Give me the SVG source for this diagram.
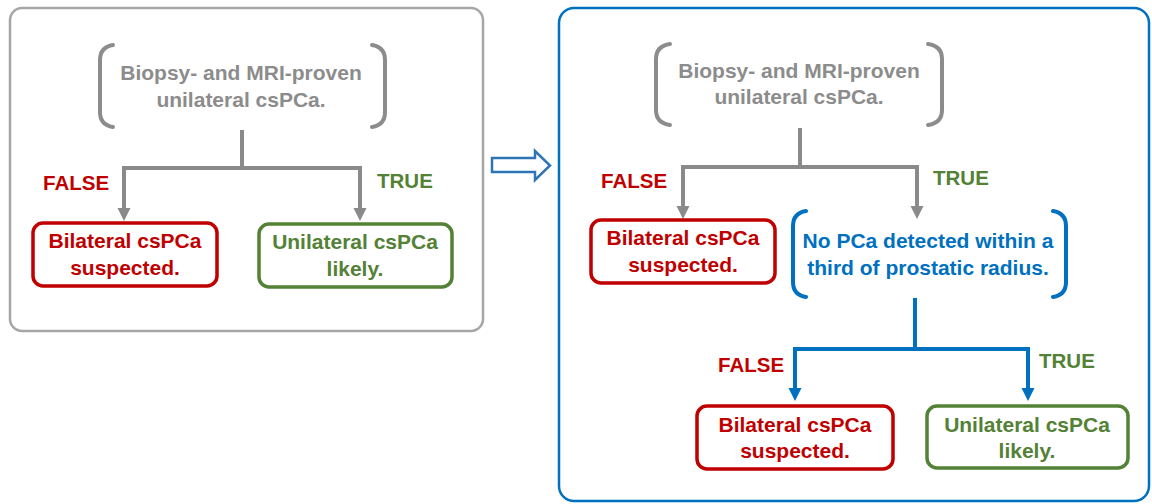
<svg xmlns="http://www.w3.org/2000/svg" width="1152" height="504" viewBox="0 0 1152 504">
<defs>
<style>
text{font-family:"Liberation Sans",Arial,sans-serif;font-weight:bold;font-size:21px;text-anchor:middle}
.gray{fill:#8c8c8c}
.red{fill:#c00000}
.green{fill:#538135}
.blue{fill:#0070c0}
.lbl{font-size:20.5px;text-anchor:start}
.gl{fill:none;stroke:#8a8a8a;stroke-width:4}
.bl{fill:none;stroke:#0070c0;stroke-width:4}
.gb{fill:none;stroke:#8c8c8c;stroke-width:4;stroke-linecap:round}
.bb{fill:none;stroke:#0070c0;stroke-width:4;stroke-linecap:round}
.rbox{fill:#fff;stroke:#c00000;stroke-width:3.5}
.gbox{fill:#fff;stroke:#538135;stroke-width:3.5}
</style>
<marker id="ag" markerUnits="userSpaceOnUse" markerWidth="14" markerHeight="14" viewBox="0 -7 14 14" refX="1" refY="0" orient="auto"><path d="M0,-6.5 L13,0 L0,6.5 z" fill="#8a8a8a"/></marker>
<marker id="ab" markerUnits="userSpaceOnUse" markerWidth="14" markerHeight="14" viewBox="0 -7 14 14" refX="1" refY="0" orient="auto"><path d="M0,-6.5 L13,0 L0,6.5 z" fill="#0070c0"/></marker>
</defs>
<rect width="1152" height="504" fill="#fff"/>

<g id="panel-left">
<rect x="10" y="8" width="473" height="323" rx="12" fill="none" stroke="#a6a6a6" stroke-width="2.5"/>
</g>
<g id="panel-right">
<rect x="559" y="8" width="590" height="493" rx="15" fill="none" stroke="#0070c0" stroke-width="2.5"/>
</g>
<g id="transition-arrow">
<polygon points="492,158 535,158 535,151 550,165.5 535,180 535,172 492,172" fill="#fff" stroke="#2e75b6" stroke-width="2.5" stroke-linejoin="miter"/>
</g>

<g id="connectors">
<path class="gl" d="M242,130 V168"/>
<path class="gl" d="M124,168 H360"/>
<path class="gl" d="M124,166 V209" marker-end="url(#ag)"/>
<path class="gl" d="M360,166 V209" marker-end="url(#ag)"/>
<path class="gl" d="M800,128 V167"/>
<path class="gl" d="M683,167 H917"/>
<path class="gl" d="M683,165 V207" marker-end="url(#ag)"/>
<path class="gl" d="M917,165 V207" marker-end="url(#ag)"/>
<path class="bl" d="M915,298 V349"/>
<path class="bl" d="M795,349 H1028"/>
<path class="bl" d="M795,347 V389" marker-end="url(#ab)"/>
<path class="bl" d="M1028,347 V389" marker-end="url(#ab)"/>
</g>

<g id="labels">
<text class="red lbl" x="43" y="190">FALSE</text>
<text class="green lbl" x="377" y="188">TRUE</text>
<text class="red lbl" x="601" y="188">FALSE</text>
<text class="green lbl" x="933" y="185">TRUE</text>
<text class="red lbl" x="718" y="372">FALSE</text>
<text class="green lbl" x="1039" y="368">TRUE</text>
</g>

<g id="L-start">
<path class="gb" d="M113,45 Q100,47 100,60 V112 Q100,125 113,127"/>
<path class="gb" d="M372,45 Q385,47 385,60 V112 Q385,125 372,127"/>
<text class="gray" x="241" y="80">Biopsy- and MRI-proven</text>
<text class="gray" x="241" y="107">unilateral csPCa.</text>
</g>
<g id="L-false">
<rect class="rbox" x="33" y="223" width="184" height="63" rx="10"/>
<text class="red" x="125" y="248">Bilateral csPCa</text>
<text class="red" x="125" y="275">suspected.</text>
</g>
<g id="L-true">
<rect class="gbox" x="259" y="224" width="193" height="63" rx="10"/>
<text class="green" x="355" y="249">Unilateral csPCa</text>
<text class="green" x="355" y="276">likely.</text>
</g>

<g id="R-start">
<path class="gb" d="M670,44 Q656,46 656,59 V110 Q656,123 670,125"/>
<path class="gb" d="M928,44 Q942,46 942,59 V110 Q942,123 928,125"/>
<text class="gray" x="799" y="78">Biopsy- and MRI-proven</text>
<text class="gray" x="799" y="104">unilateral csPCa.</text>
</g>
<g id="R-false1">
<rect class="rbox" x="591" y="220" width="184" height="63" rx="10"/>
<text class="red" x="683" y="245">Bilateral csPCa</text>
<text class="red" x="683" y="272">suspected.</text>
</g>
<g id="R-cond2">
<path class="bb" d="M806,211 Q793,213 793,226 V282 Q793,295 806,297"/>
<path class="bb" d="M1053,211 Q1066,213 1066,226 V282 Q1066,295 1053,297"/>
<text class="blue" x="928" y="248">No PCa detected within a</text>
<text class="blue" x="928" y="275">third of prostatic radius.</text>
</g>
<g id="R-false2">
<rect class="rbox" x="697" y="406" width="196" height="63" rx="10"/>
<text class="red" x="795" y="432">Bilateral csPCa</text>
<text class="red" x="795" y="458">suspected.</text>
</g>
<g id="R-true2">
<rect class="gbox" x="927" y="406" width="201" height="62" rx="10"/>
<text class="green" x="1027" y="432">Unilateral csPCa</text>
<text class="green" x="1027" y="458">likely.</text>
</g>
</svg>
